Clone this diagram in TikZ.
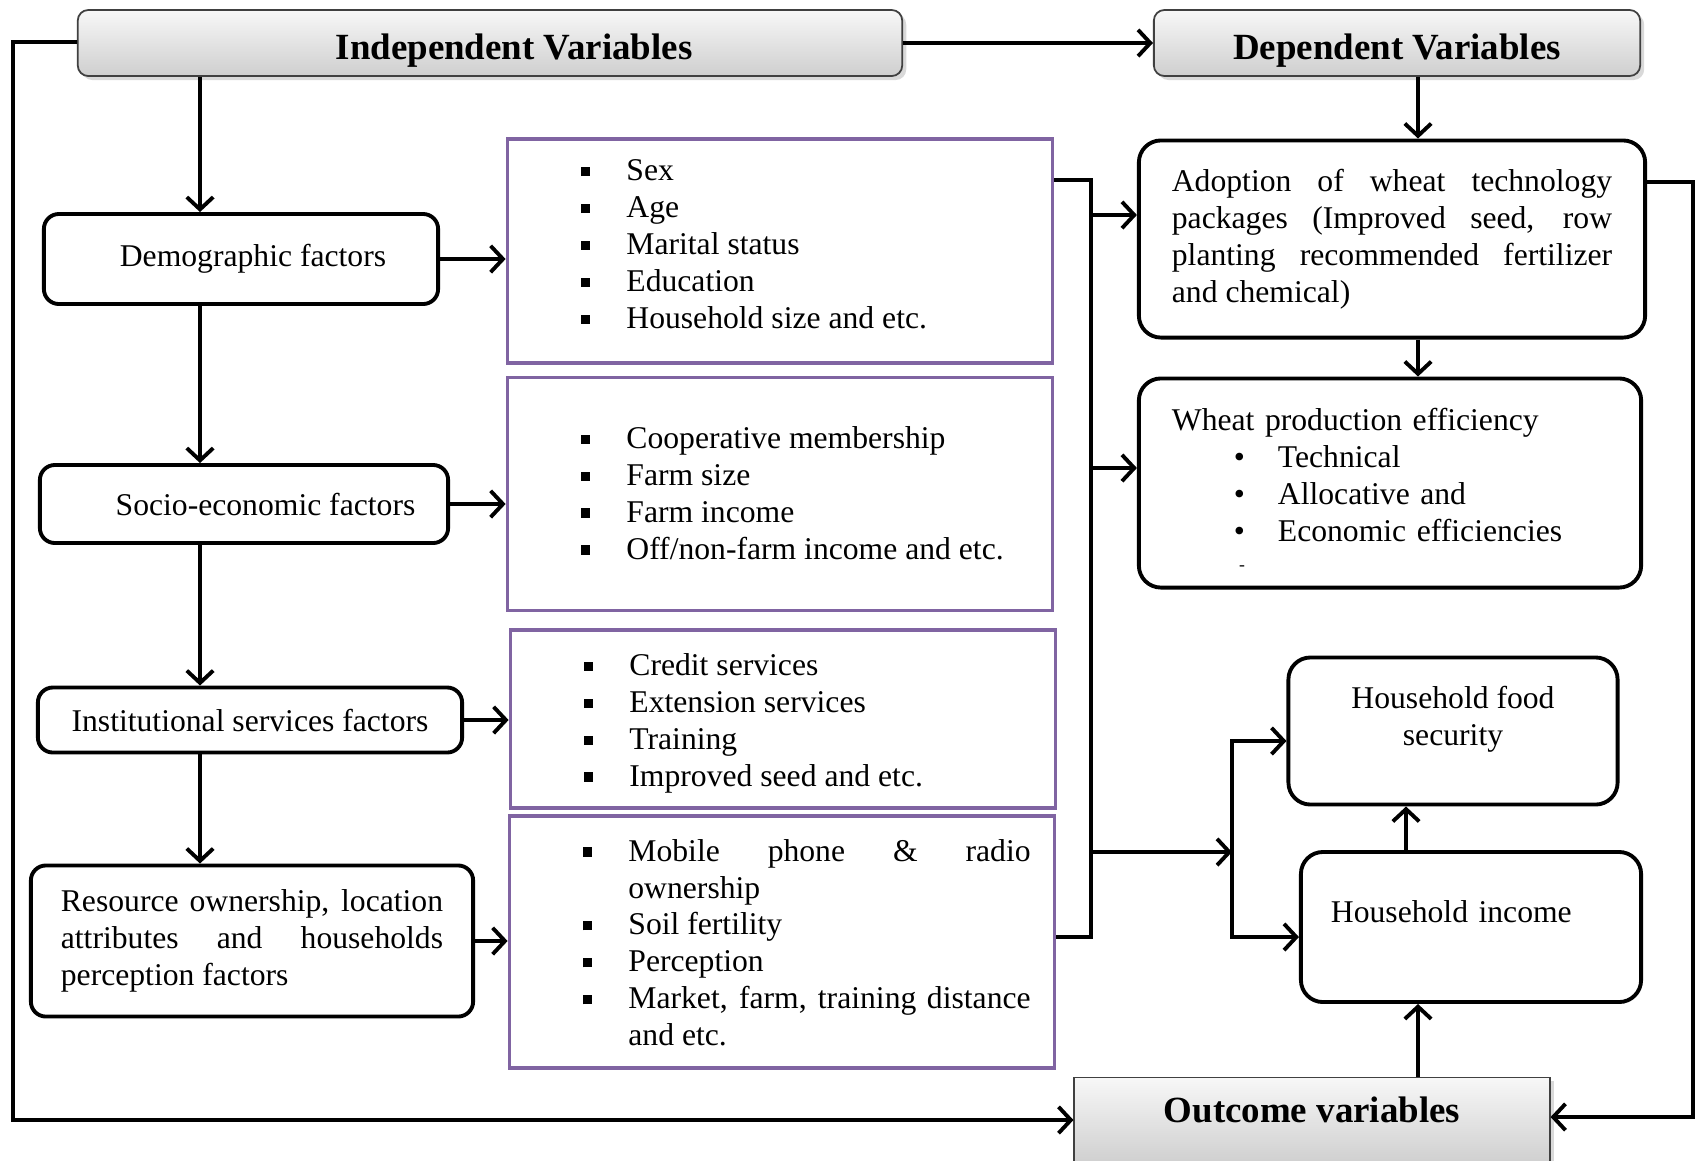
\documentclass[tikz,border=0pt]{standalone}
\usepackage{fontspec}
\setmainfont{Liberation Serif}
\usepackage{tikz}
\usetikzlibrary{arrows.meta, positioning, calc, shadows}
\usepackage{xcolor}
\definecolor{listpurple}{RGB}{128,100,162}
\hyphenpenalty=10000
\exhyphenpenalty=10000
\newcommand{\bodyfont}{\fontsize{9}{10.5}\selectfont}
\newcommand{\headfont}{\fontsize{10.5}{12}\selectfont\bfseries}
\newcommand{\lowpad}[1]{\rule[-#1]{0pt}{#1}}
\newenvironment{sqitems}{\begin{list}{\rule[1.3pt]{2.6pt}{2.6pt}}{\setlength{\leftmargin}{0.95cm}\setlength{\labelsep}{0.36cm}\setlength{\labelwidth}{0.5cm}\setlength{\itemsep}{0pt}\setlength{\parsep}{0pt}\setlength{\topsep}{0pt}\setlength{\partopsep}{0pt}}}{\end{list}}
\newenvironment{dotitems}{\begin{list}{\textbullet}{\setlength{\leftmargin}{1.06cm}\setlength{\labelsep}{0.33cm}\setlength{\labelwidth}{0.5cm}\setlength{\itemsep}{0pt}\setlength{\parsep}{0pt}\setlength{\topsep}{0pt}\setlength{\partopsep}{0pt}}}{\end{list}}
\tikzstyle{header} = [rectangle, rounded corners=3pt, draw=black!75, line width=0.5pt, top color=gray!6, bottom color=gray!38, drop shadow={opacity=0.3, shadow xshift=0.04cm, shadow yshift=-0.04cm}, font=\headfont, text centered, text height=10pt, text depth=0.5pt]
\tikzstyle{factor} = [rectangle, rounded corners=0.15cm, draw=black, line width=1.1pt, fill=white, text centered]
\tikzstyle{listbox} = [rectangle, draw=listpurple, line width=1pt, fill=white, inner xsep=0.24cm, inner ysep=1pt, text width=4.97cm, align=justify]
\tikzstyle{effect} = [rectangle, rounded corners=0.22cm, draw=black, line width=1.1pt, fill=white]
\tikzstyle{link} = [line width=1.1pt]
\tikzstyle{arrow} = [line width=1.1pt, -{Straight Barb[length=3.5pt,width=7.5pt]}]

\begin{document}
\begin{tikzpicture}[x=0.01cm, y=-0.01cm, every node/.style={font=\bodyfont}]
    \useasboundingbox (0,0) rectangle (1697,1160);

    % headers
    \node (ind) [header, minimum width=8.24cm, minimum height=0.66cm] at (490,43) {\hspace*{0.48cm}Independent Variables};
    \node (dep) [header, minimum width=4.86cm, minimum height=0.66cm] at (1397,43) {Dependent Variables};
    \node (out) [header, rounded corners=0pt, text height=6pt, text depth=5pt, minimum width=4.75cm, minimum height=0.87cm] at (1312,1121) {Outcome variables};

    % independent factors
    \node (demo) [factor, minimum width=3.94cm, minimum height=0.90cm] at (241,259) {\hspace*{0.24cm}Demographic factors};
    \node (socio) [factor, minimum width=4.08cm, minimum height=0.78cm] at (244,504) {\hspace*{0.43cm}Socio-economic factors};
    \node (inst) [factor, minimum width=4.24cm, minimum height=0.65cm] at (250,720) {Institutional services factors};
    \node (res) [factor, inner xsep=0.30cm, text width=3.82cm, align=justify, minimum height=1.51cm] at (252,941) {Resource ownership, location attributes and households perception factors};

    \node (p1) [listbox, minimum height=2.24cm] at (780,251) {\begin{sqitems}\item Sex \item Age \item Marital status \item Education \item Household size and etc.\lowpad{8.5pt}\end{sqitems}};
    \node (p2) [listbox, minimum height=2.33cm] at (780,494) {\begin{sqitems}\item Cooperative membership \item Farm size \item Farm income \item Off/non-farm income and etc.\lowpad{5pt}\end{sqitems}};
    \node (p3) [listbox, minimum height=1.78cm] at (783,719) {\begin{sqitems}\item Credit services \item Extension services \item Training \item Improved seed and etc.\lowpad{3.8pt}\end{sqitems}};
    \node (p4) [listbox, minimum height=2.52cm] at (782,942) {\begin{sqitems}\item Mobile phone \& radio ownership \item Soil fertility \item Perception \item Market, farm, training distance and etc.\lowpad{4pt}\end{sqitems}};

    % dependent and outcome
    \node (adopt) [effect, inner xsep=0.33cm, text width=4.40cm, align=justify, minimum height=1.97cm] at (1392,239) {Adoption of wheat technology packages (Improved seed, row planting recommended fertilizer and chemical)};
    \node (eff) [effect, inner xsep=0.33cm, inner ysep=1pt, text width=4.36cm, align=left, minimum height=2.09cm] at (1390,483) {\rule{0pt}{12pt}Wheat production efficiency\begin{dotitems}\item Technical \item Allocative and \item Economic efficiencies \item[\raisebox{2pt}{\tiny -}] \mbox{}\end{dotitems}};
    \node (food) [effect, align=center, minimum width=3.29cm, minimum height=1.47cm] at (1453,731) {Household food\\security\\[-0.18cm]\strut};
    \node (income) [effect, inner xsep=0.30cm, text width=2.80cm, align=left, minimum height=1.50cm] at (1471,927) {Household income\\[-0.16cm]\strut};

    \coordinate (trunk) at (200,0);
    \coordinate (rcol) at (1418,0);
    \coordinate (fcol) at (1406,0);
    \coordinate (bt) at (1091,180);
    \coordinate (bb) at (1091,937);
    \coordinate (ta) at (1091,215);
    \coordinate (te) at (1091,468);
    \coordinate (jn) at (1232,852);
    \coordinate (tf) at (1232,741);
    \coordinate (ti) at (1232,937);
    \coordinate (lt) at (13,42);
    \coordinate (lb) at (13,1120);
    \coordinate (rt) at (1693,182);
    \coordinate (rb) at (1693,1117);

    \draw [arrow] (ind.east) -- (dep.west);
    \foreach \a/\b in {ind/demo, demo/socio, socio/inst, inst/res} {
        \draw [arrow] (\a.south -| trunk) -- (\b.north -| trunk);
    }
    \foreach \a/\b in {demo/p1, socio/p2, inst/p3, res/p4} {
        \draw [arrow] (\a.east) -- (\a.east -| \b.west);
    }

    % collector line
    \draw [link] (p1.east |- bt) -- (bt) -- (bb) -- (p4.east |- bb);
    \draw [arrow] (ta) -- (ta -| adopt.west);
    \draw [arrow] (te) -- (te -| eff.west);
    \draw [arrow] (bt |- jn) -- (jn);
    \draw [arrow] (jn) -- (tf) -- (tf -| food.west);
    \draw [arrow] (jn) -- (ti) -- (ti -| income.west);

    \draw [arrow] (dep.south -| rcol) -- (adopt.north -| rcol);
    \draw [arrow] (adopt.south -| rcol) -- (eff.north -| rcol);
    \draw [arrow] (out.north -| rcol) -- (income.south -| rcol);
    \draw [arrow] (income.north -| fcol) -- (food.south -| fcol);

    % loops to outcome
    \draw [arrow] (ind.west |- lt) -- (lt) -- (lb) -- (lb -| out.west);
    \draw [arrow] (adopt.east |- rt) -- (rt) -- (rb) -- (rb -| out.east);
\end{tikzpicture}
\end{document}
